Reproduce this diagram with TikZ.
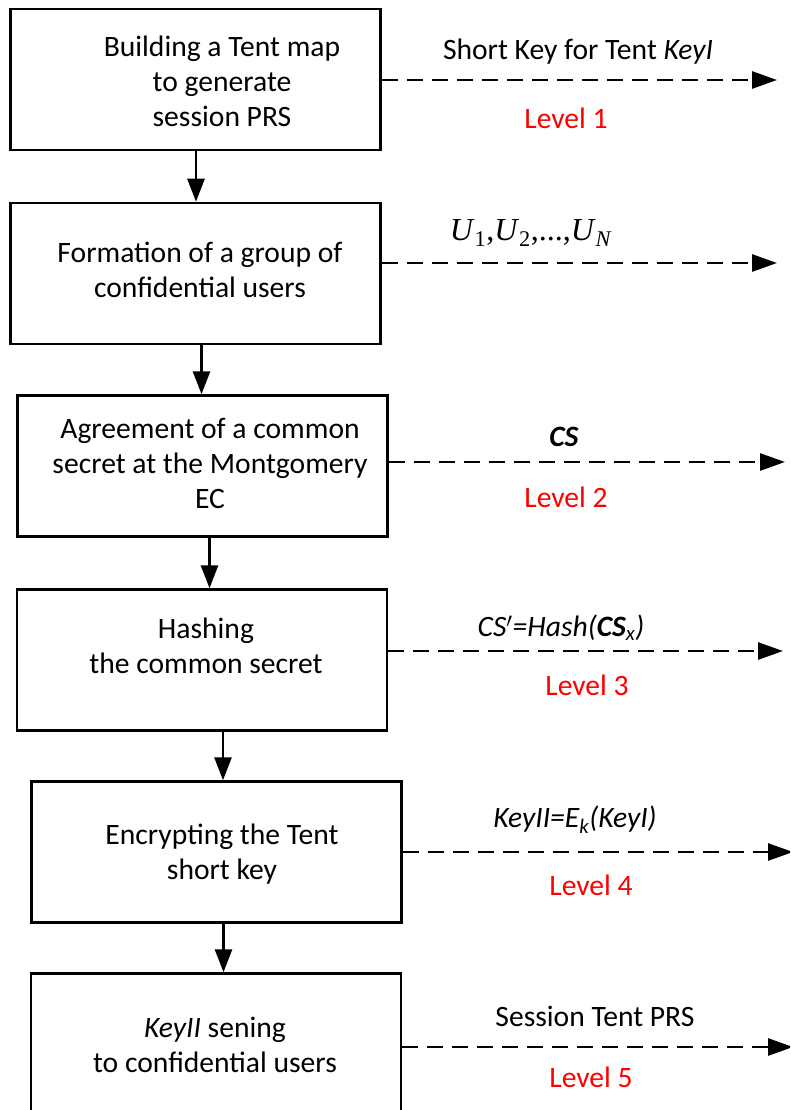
\documentclass[tikz,border=0pt]{standalone}
\usepackage{fontspec}
\setmainfont{Carlito}
\newfontfamily\timesfont{Liberation Serif}
\usetikzlibrary{arrows.meta}

\tikzset{
  stepbox/.style={draw, line width=2.5pt, minimum width=370pt, minimum height=141pt, inner sep=0pt},
  steptext/.style={align=center, inner sep=0pt, font=\fontsize{29.6}{35}\selectfont},
  flow/.style={-{Triangle[length=23pt,width=17pt]}, line width=2.8pt},
  keyflow/.style={-{Triangle[length=25pt,width=17pt]}, line width=2.8pt, dash pattern=on 16pt off 9pt},
  keytext/.style={inner sep=0pt, font=\fontsize{29.6}{35}\selectfont},
  lvl/.style={keytext, text=red}
}

\begin{document}
\begin{tikzpicture}[x=1pt,y=-1pt]

\clip (0,0) rectangle (790,1110);
\fill[white] (0,0) rectangle (790,1110);

% the six stages
\foreach \n/\cx/\cy in {1/195.5/79.5, 2/195.5/273.5, 3/202.5/466, 4/202/660, 5/216.5/852, 6/216/1044}{
    \node[stepbox] (b\n) at (\cx,\cy) {};
}

\node[steptext] (t1) at (222,81) {Building a Tent map\\to generate\\session PRS};
\node[steptext] (t2) at (200,270) {Formation of a group of\\confidential users};
\node[steptext] (t3) at (210,463) {Agreement of a common\\secret at the Montgomery\\EC};
\node[steptext] (t4) at (206,646) {Hashing\\the common secret};
\node[steptext] (t5) at (222,854) {Encrypting the Tent\\short key};
\node[steptext] (t6) at (215,1045) {\textit{KeyII} sening\\to confidential users};

\draw[flow] ([xshift=0.5pt]b1.south) -- ([xshift=0.5pt]b1.south |- b2.north);
\draw[flow] ([xshift=6pt]b2.south) -- ([xshift=6pt]b2.south |- b3.north);
\draw[flow] ([xshift=7pt]b3.south) -- ([xshift=7pt]b3.south |- b4.north);
\draw[flow] ([xshift=21pt]b4.south) -- ([xshift=21pt]b4.south |- b5.north);
\draw[flow] ([xshift=7pt]b5.south) -- ([xshift=7pt]b5.south |- b6.north);

% outputs of each stage
\coordinate (e1) at (777,80);
\coordinate (e2) at (777,263);
\coordinate (e3) at (785,462);
\coordinate (e4) at (783,651);
\coordinate (e5) at (793,852);
\coordinate (e6) at (793,1047);

\foreach \n in {1,...,6}{
    \draw[keyflow] (b\n.east |- e\n) -- (e\n);
}

\node[keytext] (k1) at (578,52) {Short Key for Tent \textit{KeyI}};
\node[keytext] (k2) at (531,233) {\timesfont\fontsize{32}{35}\selectfont
    \textit{U}\textsubscript{1},\textit{U}\textsubscript{2},...,\textit{U}\textsubscript{\textit{N}}};
\node[keytext] (k3) at (564,437) {\textbf{\textit{CS}}};
\node[keytext] (k4) at (561,628) {\textit{CS$^{\prime}$=Hash(\textbf{CS}\textsubscript{x})}};
\node[keytext] (k5) at (575,820) {\textit{KeyII=E\textsubscript{k}(KeyI)}};
\node[keytext] (k6) at (595,1016) {Session Tent PRS};

\node[lvl] (l1) at (566,118) {Level 1};
\node[lvl] (l2) at (566,497) {Level 2};
\node[lvl] (l3) at (587,685) {Level 3};
\node[lvl] (l4) at (591,885) {Level 4};
\node[lvl] (l5) at (591,1077) {Level 5};

\end{tikzpicture}
\end{document}
